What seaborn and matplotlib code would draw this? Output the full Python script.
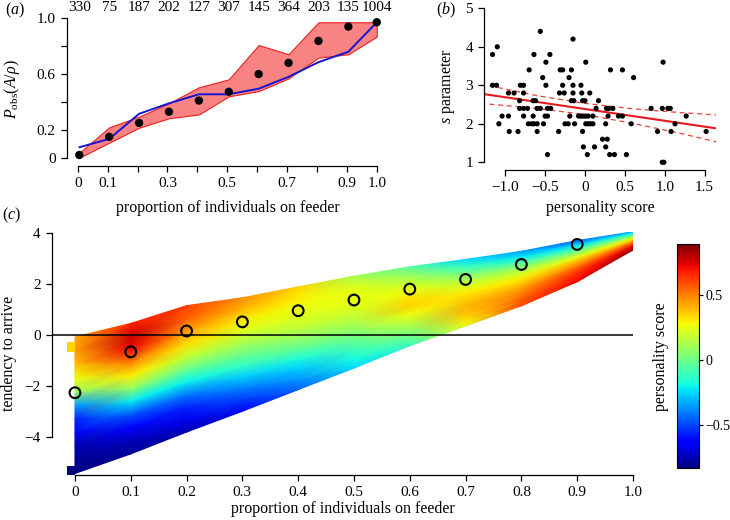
import numpy as np
import matplotlib
matplotlib.use("Agg")
import matplotlib.pyplot as plt
import seaborn as sns

# (a) observed probability of arriving vs proportion on feeder
prop_a = [0.005, 0.105, 0.205, 0.305, 0.405, 0.505, 0.605, 0.705, 0.805, 0.905, 1.0]
p_obs = [0.02, 0.15, 0.25, 0.33, 0.41, 0.473, 0.60, 0.68, 0.837, 0.94, 0.971]
band_hi = [0.035, 0.218, 0.295, 0.39, 0.505, 0.562, 0.808, 0.742, 0.971, 0.971, 0.971]
band_lo = [0.0, 0.108, 0.215, 0.283, 0.31, 0.44, 0.478, 0.569, 0.717, 0.742, 0.868]
p_model = [0.075, 0.135, 0.315, 0.39, 0.455, 0.455, 0.495, 0.58, 0.685, 0.76, 0.97]
counts = [330, 75, 187, 202, 127, 307, 145, 364, 203, 135, 1004]

# (b) s parameter vs personality score, one entry per bird
score_b = [-0.56, -0.15, -1.10,
           -1.16, -0.64, -0.44,
           -0.49, 0.01, 0.98,
           -0.70, -0.31, -0.28, -0.17, 0.32, 0.47,
           -0.53, -0.20, 0.61,
           -1.16, -1.11, -0.81, -0.77, -0.49, -0.28, -0.15, -0.05,
           -0.96, -0.89, -0.77, -0.32, -0.26, -0.15, -0.04, 0.06,
           -0.82, -0.65, -0.62, -0.17, -0.14, -0.03, 0.0, 0.17,
           -0.82, -0.77, -0.72, -0.60, -0.56, -0.47, -0.43, 0.14, 0.27, 0.30, 0.35,
           0.83, 0.97, 1.04, 1.07,
           -1.04, -0.96, -0.77, -0.65, -0.50, -0.47, -0.19, -0.08, -0.05, -0.02,
           0.01, 0.04, 0.10, 0.29, 0.42, 0.47, 1.27,
           -1.08, -0.71, -0.67, -0.64, -0.60, -0.52, -0.25, -0.21, -0.13, 0.01,
           0.04, 0.07, 0.10, 0.26, 0.58, 1.13,
           -0.95, -0.84, -0.60, -0.33, -0.03, 0.91, 1.08, 1.52,
           0.22, 0.28,
           -0.02, 0.12, 0.26,
           -0.47, 0.03, 0.31, 0.37, 0.52,
           0.97, 0.99]
s_b = ([4.4, 4.2, 4.0] + [3.8] * 3 + [3.6] * 3 + [3.4] * 6 + [3.2] * 3 + [3.0] * 8
       + [2.8] * 8 + [2.6] * 8 + [2.4] * 15 + [2.2] * 17 + [2.0] * 16 + [1.8] * 8
       + [1.6] * 2 + [1.4] * 3 + [1.2] * 5 + [1.0] * 2)
fit_x = [-1.263, 1.65]
fit_y = [2.77, 1.88]
ci_x = [-1.2, -0.6, 0.0, 0.6, 1.2, 1.65]
ci_hi = [2.99, 2.73, 2.53, 2.39, 2.29, 2.23]
ci_lo = [2.51, 2.40, 2.24, 2.01, 1.75, 1.53]

# (c) personality score surface, read column by column (bottom -> top)
prop_c = [0.0, 0.1, 0.2, 0.3, 0.4, 0.5, 0.6, 0.7, 0.8, 0.9, 1.0]
edge_lo = [-5.45, -4.68, -3.82, -3.0, -2.15, -1.3, -0.42, 0.36, 1.15, 2.1, 3.35]
edge_hi = [-0.07, 0.46, 1.16, 1.47, 1.90, 2.32, 2.69, 2.98, 3.30, 3.72, 4.07]
score_cols = [
    [-0.83, -0.80, -0.76, -0.65, -0.55, -0.35, 0.10, 0.27, 0.38, 0.45, 0.42],
    [-0.80, -0.74, -0.64, -0.48, -0.22, 0.08, 0.30, 0.50, 0.72, 0.78, 0.68],
    [-0.75, -0.66, -0.55, -0.40, -0.20, 0.00, 0.18, 0.33, 0.45, 0.56, 0.62],
    [-0.65, -0.52, -0.40, -0.27, -0.13, 0.00, 0.12, 0.22, 0.30, 0.40, 0.48],
    [-0.45, -0.36, -0.27, -0.17, -0.02, 0.08, 0.17, 0.23, 0.26, 0.30, 0.35],
    [-0.25, -0.18, -0.10, -0.02, 0.06, 0.14, 0.20, 0.25, 0.26, 0.22, 0.12],
    [-0.12, -0.02, 0.08, 0.17, 0.27, 0.35, 0.33, 0.27, 0.18, 0.08, -0.05],
    [0.25, 0.32, 0.38, 0.40, 0.36, 0.30, 0.22, 0.13, 0.00, -0.12, -0.25],
    [0.60, 0.57, 0.52, 0.46, 0.38, 0.30, 0.20, 0.08, -0.08, -0.22, -0.35],
    [0.72, 0.70, 0.66, 0.60, 0.50, 0.40, 0.25, 0.08, -0.08, -0.25, -0.45],
    [0.85, 0.82, 0.76, 0.68, 0.58, 0.45, 0.32, 0.18, 0.02, -0.15, -0.30],
]
# two stray cells left of p = 0
extra_x = [[-0.014, 0.0], [-0.014, 0.0]]
extra_t = [[-0.66, -0.26], [-5.58, -5.15]]
extra_val = [0.35, -0.83]
circ_p = [0.0, 0.1, 0.2, 0.3, 0.4, 0.5, 0.6, 0.7, 0.8, 0.9]
circ_t = [-2.27, -0.66, 0.16, 0.52, 0.96, 1.38, 1.81, 2.19, 2.78, 3.57]
score_min, score_max = -0.83, 0.89

sns.set_theme(style="ticks")
plt.rcParams["font.family"] = ["Liberation Serif", "DejaVu Serif"]
plt.rcParams["mathtext.fontset"] = "custom"
plt.rcParams["mathtext.rm"] = "Liberation Serif"
plt.rcParams["mathtext.it"] = "Liberation Serif:italic"
plt.rcParams.update({
    "font.size": 11, "axes.labelsize": 11.5, "xtick.labelsize": 11, "ytick.labelsize": 11,
    "axes.edgecolor": "black", "axes.linewidth": 0.9, "text.color": "black",
    "axes.labelcolor": "black", "xtick.color": "black", "ytick.color": "black",
    "xtick.major.size": 4.5, "ytick.major.size": 4.5,
    "xtick.major.width": 0.9, "ytick.major.width": 0.9,
})

fig = plt.figure(figsize=(7.3, 5.2), dpi=100)
ax_a = fig.add_axes([0.0914, 0.6813, 0.4411, 0.2944])
ax_b = fig.add_axes([0.6634, 0.6731, 0.3181, 0.3228])
ax_c = fig.add_axes([0.0712, 0.0865, 0.7959, 0.4679])
cax = fig.add_axes([0.9274, 0.0994, 0.0301, 0.4308])

# ---- (a)
ax_a.fill_between(prop_a, band_lo, band_hi, facecolor="#F98282", edgecolor="#E8231E", lw=0.8)
sns.lineplot(x=prop_a, y=p_model, ax=ax_a, color="#1414D2", lw=1.4, sort=False)
sns.scatterplot(x=prop_a, y=p_obs, ax=ax_a, color="black", s=36, edgecolor="none", zorder=3)
for xv, n in zip(prop_a, counts):
    ax_a.text(xv, 1.031, str(n), transform=ax_a.get_xaxis_transform(), ha="center", va="center", fontsize=11)
ax_a.set_xlim(-0.037, 1.04)
ax_a.set_ylim(-0.057, 1.04)
ax_a.set_xticks(np.arange(11) / 10)
ax_a.set_xticklabels(["0", "0.1", "", "0.3", "", "0.5", "", "0.7", "", "0.9", "1.0"])
ax_a.set_yticks([0, 0.2, 0.4, 0.6, 0.8, 1.0])
ax_a.set_yticklabels(["0", "0.2", "", "0.6", "", "1.0"])
ax_a.spines["left"].set_bounds(0, 1)
ax_a.spines["bottom"].set_bounds(0, 1)
ax_a.set_xlabel("proportion of individuals on feeder")
ax_a.set_ylabel(r"$P_{\rm obs}(A/\rho)$")
ax_a.yaxis.set_label_coords(-0.139, 0.5)
ax_a.xaxis.set_label_coords(0.5, -0.225)

# ---- (b)
sns.scatterplot(x=score_b, y=s_b, ax=ax_b, color="black", s=14, edgecolor="none", zorder=3)
ax_b.plot(fit_x, fit_y, color="#E41A1C", lw=1.5)
ax_b.plot(ci_x, ci_hi, color="#E8403A", lw=0.9, ls=(0, (4, 3)))
ax_b.plot(ci_x, ci_lo, color="#E8403A", lw=0.9, ls=(0, (4, 3)))
ax_b.set_xlim(-1.263, 1.65)
ax_b.set_ylim(0.8, 5.16)
ax_b.set_xticks([-1.0, -0.5, 0.0, 0.5, 1.0, 1.5])
ax_b.set_xticklabels(["\u22121.0", "\u22120.5", "0", "0.5", "1.0", "1.5"])
ax_b.set_yticks([1, 2, 3, 4, 5])
ax_b.set_yticklabels(["1", "2", "3", "4", "5"])
ax_b.spines["left"].set_bounds(1, 5)
ax_b.spines["bottom"].set_bounds(-1, 1.5)
ax_b.set_xlabel("personality score")
ax_b.set_ylabel(r"$s$ parameter")
ax_b.yaxis.set_label_coords(-0.118, 0.5)
ax_b.xaxis.set_label_coords(0.5, -0.18)

# ---- (c)
frac = np.linspace(0, 1, len(score_cols[0]))
X = np.tile(prop_c, (len(frac), 1))
lo = np.array(edge_lo)
hi = np.array(edge_hi)
Y = lo[None, :] + frac[:, None] * (hi - lo)[None, :]
C = np.array(score_cols).T
mesh = ax_c.pcolormesh(X, Y, C, shading="gouraud", cmap="jet", vmin=score_min, vmax=score_max)
for ex, et, ev in zip(extra_x, extra_t, extra_val):
    ax_c.pcolormesh(ex, et, [[ev]], cmap="jet", vmin=score_min, vmax=score_max)
ax_c.axhline(0, color="black", lw=1.1)
sns.scatterplot(x=circ_p, y=circ_t, ax=ax_c, facecolor="none", edgecolor="black",
                linewidth=1.5, s=60, zorder=4)
ax_c.set_xlim(-0.0412, 1.0)
ax_c.set_ylim(-5.51, 4.07)
ax_c.set_xticks(np.arange(11) / 10)
ax_c.set_xticklabels(["0", "0.1", "0.2", "0.3", "0.4", "0.5", "0.6", "0.7", "0.8", "0.9", "1.0"])
ax_c.set_yticks([-4, -2, 0, 2, 4])
ax_c.set_yticklabels(["\u22124", "\u22122", "0", "2", "4"])
ax_c.spines["left"].set_bounds(-4, 4)
ax_c.spines["bottom"].set_bounds(0, 1)
ax_c.set_xlabel("proportion of individuals on feeder")
ax_c.set_ylabel("tendency to arrive")
ax_c.yaxis.set_label_coords(-0.06, 0.5)
ax_c.xaxis.set_label_coords(0.5, -0.107)

for ax in (ax_a, ax_b, ax_c):
    ax.spines["top"].set_visible(False)
    ax.spines["right"].set_visible(False)

cb = fig.colorbar(mesh, cax=cax)
cb.set_ticks([-0.5, 0, 0.5])
cb.set_ticklabels(["\u22120.5", "0", "0.5"])
cb.outline.set_linewidth(0.8)
cax.tick_params(length=3, pad=1.5, labelsize=10)
cax.yaxis.set_label_position("left")
cax.set_ylabel("personality score", labelpad=6)

fig.text(15 / 730, 1 - 10 / 520, "(" + r"$\mathit{a}$" + ")", ha="center", va="center", fontsize=11.5)
fig.text(446 / 730, 1 - 10 / 520, "(" + r"$\mathit{b}$" + ")", ha="center", va="center", fontsize=11.5)
fig.text(12 / 730, 1 - 215 / 520, "(" + r"$\mathit{c}$" + ")", ha="center", va="center", fontsize=11.5)

fig.savefig("out.png", dpi=100)
